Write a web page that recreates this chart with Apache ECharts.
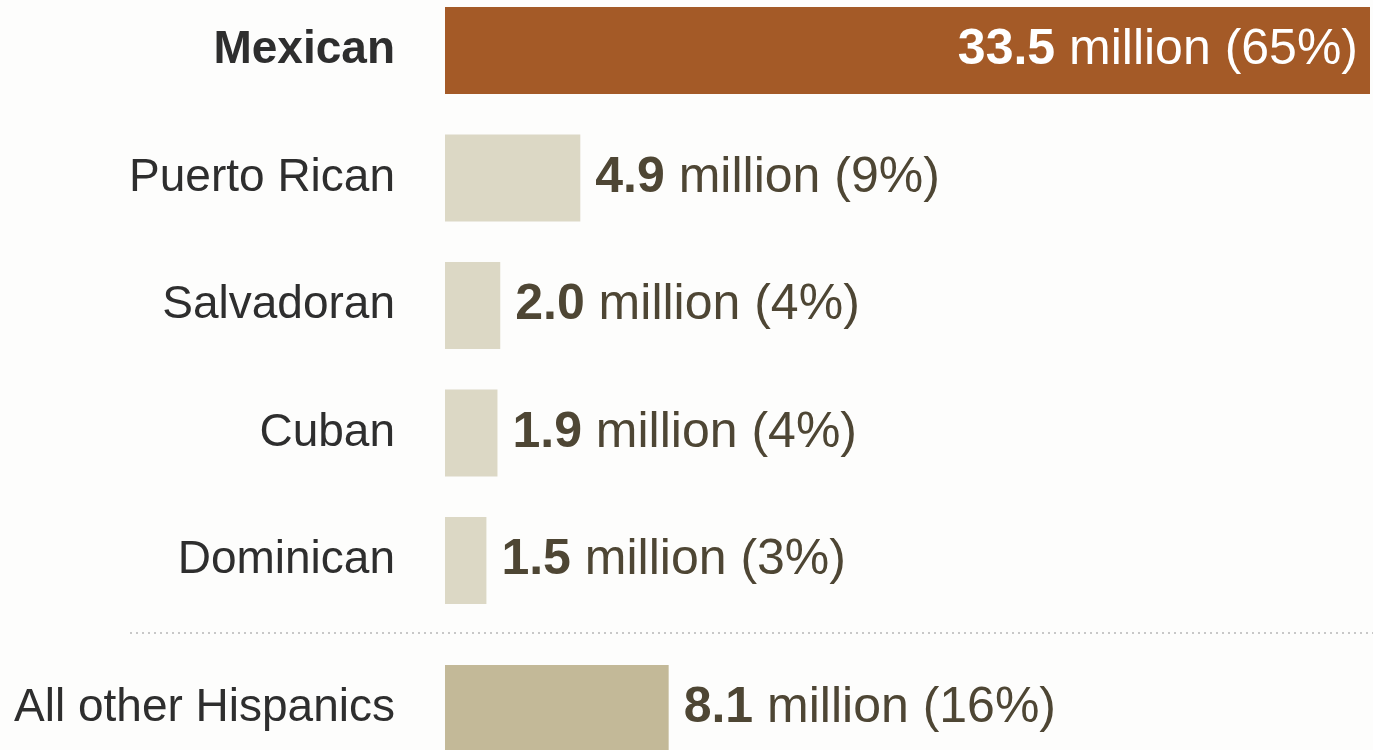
<!DOCTYPE html>
<html>
<head>
<meta charset="utf-8">
<title>Hispanic origin groups</title>
<script src="https://cdn.jsdelivr.net/npm/echarts@6/dist/echarts.min.js"></script>
<style>
  html, body { margin: 0; padding: 0; background: #fdfdfc; }
  #chart { width: 1373px; height: 750px; }
</style>
</head>
<body>
<div id="chart"></div>
<script>
// Top origin groups (millions of people and share of all Hispanics)
const groups = ['Mexican', 'Puerto Rican', 'Salvadoran', 'Cuban', 'Dominican'];
const groupValues = [33.5, 4.9, 2.0, 1.9, 1.5];
const groupShares = [65, 9, 4, 4, 3];

// Everyone else, shown below the divider
const otherGroup = ['All other Hispanics'];
const otherValues = [8.1];
const otherShares = [16];

const MAX = 33.5;
const FONT = '"Liberation Sans", Arial, sans-serif';
const valueColor = '#4e4634';

function labelText(values, shares) {
  return function (p) {
    return '{num|' + values[p.dataIndex].toFixed(1) + '} million (' + shares[p.dataIndex] + '%)';
  };
}

const richFor = (color) => ({
  num: { fontWeight: 'bold', fontSize: 50, color: color, fontFamily: FONT },
});

const chart = echarts.init(document.getElementById('chart'));

const catAxisLabel = {
  fontSize: 46,
  color: '#2e2e2e',
  fontFamily: FONT,
  margin: 50,
  formatter: function (v) { return v === 'Mexican' ? '{bold|' + v + '}' : v; },
  rich: { bold: { fontWeight: 'bold', fontSize: 46, color: '#2e2e2e', fontFamily: FONT } }
};

chart.setOption({
  backgroundColor: '#fdfdfc',
  animation: false,
  grid: [
    { left: 445, right: 3, top: -13.25, height: 637.5, outerBoundsMode: 'none', containLabel: false },
    { left: 445, right: 3, top: 644.75, height: 127.5, outerBoundsMode: 'none', containLabel: false }
  ],
  xAxis: [
    { gridIndex: 0, type: 'value', min: 0, max: MAX, show: false },
    { gridIndex: 1, type: 'value', min: 0, max: MAX, show: false }
  ],
  yAxis: [
    {
      gridIndex: 0, type: 'category', data: groups, inverse: true,
      axisLine: { show: false }, axisTick: { show: false }, splitLine: { show: false },
      axisLabel: catAxisLabel
    },
    {
      gridIndex: 1, type: 'category', data: otherGroup, inverse: true,
      axisLine: { show: false }, axisTick: { show: false }, splitLine: { show: false },
      axisLabel: catAxisLabel
    }
  ],
  graphic: [
    {
      type: 'line',
      shape: { x1: 130, y1: 633, x2: 1373, y2: 633 },
      style: { stroke: '#c8c8c8', lineWidth: 2, lineDash: [2, 4] },
      silent: true
    }
  ],
  series: [
    {
      type: 'bar',
      xAxisIndex: 0, yAxisIndex: 0,
      barWidth: 87,
      data: groupValues.map(function (v, i) {
        const first = i === 0;
        return {
          value: v,
          itemStyle: { color: first ? '#a45a27' : '#dcd8c5' },
          label: first
            ? { position: 'insideRight', distance: 12, color: '#ffffff', rich: richFor('#ffffff') }
            : { position: 'right', distance: 15, color: valueColor, rich: richFor(valueColor) }
        };
      }),
      label: {
        show: true,
        fontSize: 50,
        fontFamily: FONT,
        formatter: labelText(groupValues, groupShares)
      }
    },
    {
      type: 'bar',
      xAxisIndex: 1, yAxisIndex: 1,
      barWidth: 87,
      itemStyle: { color: '#c3b998' },
      data: otherValues,
      label: {
        show: true,
        position: 'right',
        distance: 15,
        fontSize: 50,
        fontFamily: FONT,
        color: valueColor,
        rich: richFor(valueColor),
        formatter: labelText(otherValues, otherShares)
      }
    }
  ]
});
</script>
</body>
</html>
